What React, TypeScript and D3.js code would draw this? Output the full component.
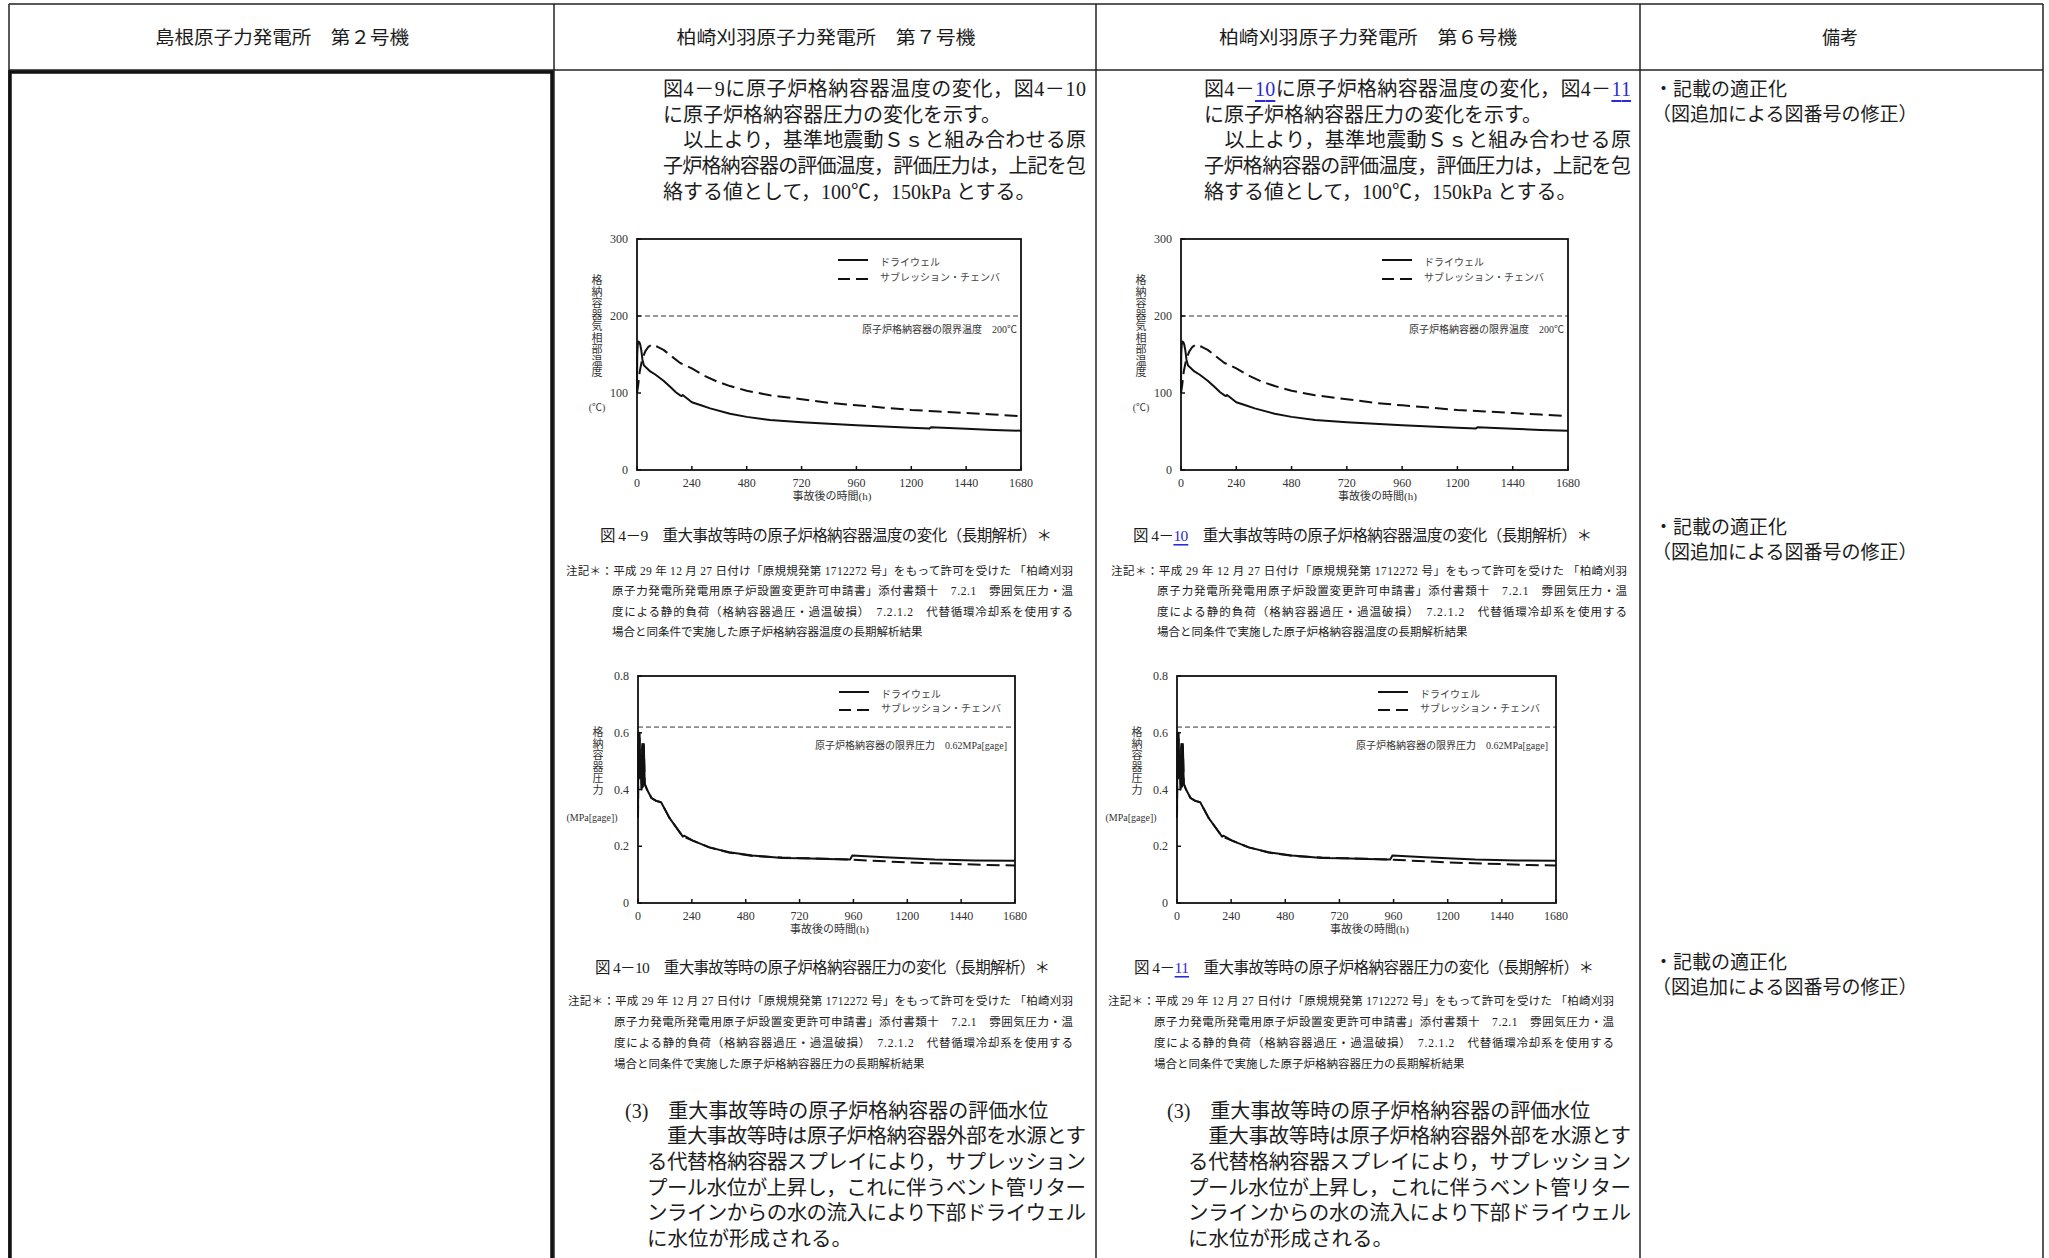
import React from "react";
import * as d3 from "d3";

// ---------------- DATA ----------------
const headerLabels = ["島根原子力発電所　第２号機", "柏崎刈羽原子力発電所　第７号機", "柏崎刈羽原子力発電所　第６号機", "備考"];

const xTicks = [0, 240, 480, 720, 960, 1200, 1440, 1680];
const xTickLabels = ["0", "240", "480", "720", "960", "1200", "1440", "1680"];
const tempTicks = [0, 100, 200, 300];
const tempTickLabels = ["0", "100", "200", "300"];
const pressTicks = [0, 0.2, 0.4, 0.6, 0.8];
const pressTickLabels = ["0", "0.2", "0.4", "0.6", "0.8"];
const tempLimit = 200;
const pressLimit = 0.62;

const legendLabels = ["ドライウェル", "サブレッション・チェンバ"];
const xAxisLabel = "事故後の時間(h)";
const tempAxisLabel = "格納容器気相部温度";
const tempUnit = "(℃)";
const pressAxisLabel = "格納容器圧力";
const pressUnit = "(MPa[gage])";
const tempLimitLabel = "原子炉格納容器の限界温度　200℃";
const pressLimitLabel = "原子炉格納容器の限界圧力　0.62MPa[gage]";

// Drywell temperature (h, ℃)
const dwTempHours = [0, 1, 3, 6, 10, 14, 19, 24, 30, 40, 58, 80, 116, 145, 170, 189, 195, 200, 240, 280, 320, 407, 480, 582, 720, 840, 960, 1080, 1200, 1280, 1287, 1440, 1560, 1680];
const dwTempValues = [100, 150, 162, 167, 166, 163, 155, 143, 136, 133, 128, 124, 116, 108, 101, 97, 96, 97.5, 88, 84, 80, 73, 69, 65, 62, 60, 58, 56.5, 55, 54, 55.5, 53.5, 52, 51];
// Suppression chamber temperature (h, ℃)
const scTempHours = [0, 5, 12, 22, 36, 50, 65, 90, 116, 150, 189, 240, 291, 349, 407, 480, 582, 720, 844, 960, 1080, 1200, 1320, 1440, 1560, 1680];
const scTempValues = [100, 110, 128, 143, 154, 160, 163, 160, 156, 148, 139, 132, 123, 115, 109, 103, 97, 92, 87, 84, 81, 78, 76, 74, 72, 70];

// Drywell pressure (h, MPa[gage])
const dwPressHours = [0, 2, 4, 7, 10, 13, 16, 19, 22, 26, 30, 40, 60, 81, 103, 120, 140, 170, 200, 207, 244, 318, 406, 510, 643, 731, 840, 945, 955, 1100, 1322, 1500, 1680];
const dwPressValues = [0.30, 0.60, 0.48, 0.60, 0.45, 0.52, 0.40, 0.56, 0.42, 0.56, 0.42, 0.40, 0.37, 0.36, 0.355, 0.33, 0.30, 0.267, 0.234, 0.237, 0.22, 0.196, 0.179, 0.167, 0.159, 0.158, 0.155, 0.153, 0.167, 0.161, 0.153, 0.150, 0.149];
// Suppression chamber pressure (h, MPa[gage])
const scPressHours = [0, 2, 4, 7, 10, 13, 16, 19, 22, 26, 30, 40, 60, 81, 103, 120, 140, 170, 200, 244, 318, 406, 510, 643, 731, 840, 945, 1100, 1200, 1320, 1440, 1560, 1680];
const scPressValues = [0.30, 0.58, 0.47, 0.58, 0.44, 0.50, 0.40, 0.55, 0.41, 0.55, 0.42, 0.40, 0.37, 0.36, 0.355, 0.33, 0.30, 0.267, 0.234, 0.22, 0.196, 0.178, 0.166, 0.160, 0.158, 0.156, 0.153, 0.147, 0.143, 0.140, 0.137, 0.134, 0.132];

// Text
const introK7 = [
  [{ t: "図4－9に原子炉格納容器温度の変化，図4－10" }],
  [{ t: "に原子炉格納容器圧力の変化を示す。" }],
  [{ t: "　以上より，基準地震動Ｓｓと組み合わせる原" }],
  [{ t: "子炉格納容器の評価温度，評価圧力は，上記を包" }],
  [{ t: "絡する値として，100℃，150kPa とする。" }],
];
const introK6 = [
  [{ t: "図4－" }, { t: "10", link: true }, { t: "に原子炉格納容器温度の変化，図4－" }, { t: "11", link: true }],
  [{ t: "に原子炉格納容器圧力の変化を示す。" }],
  [{ t: "　以上より，基準地震動Ｓｓと組み合わせる原" }],
  [{ t: "子炉格納容器の評価温度，評価圧力は，上記を包" }],
  [{ t: "絡する値として，100℃，150kPa とする。" }],
];
const introJustify = [true, false, true, true, false];

const captionTempK7 = [{ t: "図 4－9　重大事故等時の原子炉格納容器温度の変化（長期解析）＊" }];
const captionPressK7 = [{ t: "図 4－10　重大事故等時の原子炉格納容器圧力の変化（長期解析）＊" }];
const captionTempK6 = [{ t: "図 4－" }, { t: "10", link: true }, { t: "　重大事故等時の原子炉格納容器温度の変化（長期解析）＊" }];
const captionPressK6 = [{ t: "図 4－" }, { t: "11", link: true }, { t: "　重大事故等時の原子炉格納容器圧力の変化（長期解析）＊" }];

const noteHead = "注記＊：平成 29 年 12 月 27 日付け「原規規発第 1712272 号」をもって許可を受けた 「柏崎刈羽";
const noteLine2 = "原子力発電所発電用原子炉設置変更許可申請書」添付書類十　7.2.1　雰囲気圧力・温";
const noteLine3 = "度による静的負荷（格納容器過圧・過温破損）　7.2.1.2　代替循環冷却系を使用する";
const noteTempTail = "場合と同条件で実施した原子炉格納容器温度の長期解析結果";
const notePressTail = "場合と同条件で実施した原子炉格納容器圧力の長期解析結果";

const sectionTitle = "(3)　重大事故等時の原子炉格納容器の評価水位";
const sectionLines = [
  "　重大事故等時は原子炉格納容器外部を水源とす",
  "る代替格納容器スプレイにより，サプレッション",
  "プール水位が上昇し，これに伴うベント管リター",
  "ンラインからの水の流入により下部ドライウェル",
  "に水位が形成される。",
];
const sectionJustify = [true, true, true, true, false];

const remarkLines = ["・記載の適正化", "（図追加による図番号の修正）"];

// ---------------- STYLE ----------------
const JP = "'Liberation Serif', 'Noto Sans CJK JP', serif";
const SERIF = "'Liberation Serif', 'DejaVu Serif', serif";
const INK = "#1c1c1c";
const LINK = "#2b2bd6";

type Seg = { t: string; link?: boolean };

function TLine({ x, y, segs, size, width, anchor }: { x: number; y: number; segs: Seg[]; size: number; width?: number; anchor?: string }) {
  return (
    <text
      x={x}
      y={y}
      fontSize={size}
      fontFamily={JP}
      fill={INK}
      dominantBaseline="central"
      textAnchor={anchor || "start"}
      textLength={width}
      lengthAdjust={width ? "spacing" : undefined}
    >
      {segs.map((s, i) => (
        <tspan key={i} fill={s.link ? LINK : INK} textDecoration={s.link ? "underline" : undefined}>
          {s.t}
        </tspan>
      ))}
    </text>
  );
}

type ChartProps = {
  x0: number; x1: number; y0: number; y1: number;
  yMax: number; yTicks: number[]; yTickLabels: string[];
  series: { hours: number[]; values: number[]; dashed: boolean }[];
  limit: number; limitLabel: string; limitLabelDx: number; limitLabelDy: number;
  axisLabel: string; unit: string; axisLabelDy: number; unitDy: number; unitDx: number;
  legendDy: number[];
};

function Chart(p: ChartProps) {
  const xs = d3.scaleLinear().domain([0, 1680]).range([p.x0, p.x1]);
  const ys = d3.scaleLinear().domain([0, p.yMax]).range([p.y1, p.y0]);
  const line = d3.line<[number, number]>().x((d) => xs(d[0])).y((d) => ys(d[1]));
  const mid = (p.x0 + p.x1) / 2;
  const lx = p.x0 - 40;
  return (
    <g>
      {p.series.map((s, i) => (
        <path
          key={i}
          d={line(s.hours.map((h, j) => [h, s.values[j]] as [number, number])) || ""}
          fill="none"
          stroke="#111"
          strokeWidth={2}
          strokeDasharray={s.dashed ? "13,6" : undefined}
          strokeLinejoin="round"
        />
      ))}
      <line x1={p.x0} x2={p.x1} y1={ys(p.limit)} y2={ys(p.limit)} stroke="#333" strokeWidth={1} strokeDasharray="5,3" />
      <rect x={p.x0} y={p.y0} width={p.x1 - p.x0} height={p.y1 - p.y0} fill="none" stroke="#111" strokeWidth={1.8} />
      {xTicks.map((t, i) => (
        <g key={"x" + i}>
          <line x1={xs(t)} x2={xs(t)} y1={p.y1} y2={p.y1 - 4} stroke="#111" strokeWidth={1.5} />
          <text x={xs(t)} y={p.y1 + 13} fontSize={12} fontFamily={SERIF} fill="#333" textAnchor="middle" dominantBaseline="central">
            {xTickLabels[i]}
          </text>
        </g>
      ))}
      {p.yTicks.map((t, i) => (
        <g key={"y" + i}>
          <line x1={p.x0} x2={p.x0 + 4} y1={ys(t)} y2={ys(t)} stroke="#111" strokeWidth={1.5} />
          <text x={p.x0 - 9} y={ys(t)} fontSize={12} fontFamily={SERIF} fill="#333" textAnchor="end" dominantBaseline="central">
            {p.yTickLabels[i]}
          </text>
        </g>
      ))}
      <text x={mid + 3} y={p.y1 + 26} fontSize={11} fontFamily={JP} fill="#333" textAnchor="middle" dominantBaseline="central">
        {xAxisLabel}
      </text>
      {Array.from(p.axisLabel).map((c, i) => (
        <text key={"a" + i} x={lx} y={p.y0 + p.axisLabelDy + i * 11.5} fontSize={11} fontFamily={JP} fill="#333" textAnchor="middle" dominantBaseline="central">
          {c}
        </text>
      ))}
      <text x={lx + p.unitDx} y={p.y0 + p.unitDy} fontSize={10} fontFamily={JP} fill="#333" textAnchor="middle" dominantBaseline="central">
        {p.unit}
      </text>
      <line x1={p.x0 + 201} x2={p.x0 + 231} y1={p.y0 + p.legendDy[0]} y2={p.y0 + p.legendDy[0]} stroke="#111" strokeWidth={2} />
      <line x1={p.x0 + 201} x2={p.x0 + 231} y1={p.y0 + p.legendDy[1]} y2={p.y0 + p.legendDy[1]} stroke="#111" strokeWidth={2} strokeDasharray="12,6" />
      {legendLabels.map((l, i) => (
        <text key={"l" + i} x={p.x0 + 243} y={p.y0 + p.legendDy[i] + (i === 0 ? 2 : -2)} fontSize={10} fontFamily={JP} fill="#444" dominantBaseline="central">
          {l}
        </text>
      ))}
      <text x={p.x1 - p.limitLabelDx} y={ys(p.limit) + p.limitLabelDy} fontSize={10} fontFamily={JP} fill="#333" textAnchor="end" dominantBaseline="central">
        {p.limitLabel}
      </text>
    </g>
  );
}

function TempChart({ x0, x1 }: { x0: number; x1: number }) {
  return (
    <Chart
      x0={x0} x1={x1} y0={239} y1={470} yMax={300}
      yTicks={tempTicks} yTickLabels={tempTickLabels}
      series={[
        { hours: dwTempHours, values: dwTempValues, dashed: false },
        { hours: scTempHours, values: scTempValues, dashed: true },
      ]}
      limit={tempLimit} limitLabel={tempLimitLabel} limitLabelDx={4} limitLabelDy={13}
      axisLabel={tempAxisLabel} unit={tempUnit} axisLabelDy={41} unitDy={168} unitDx={0}
      legendDy={[21, 40]}
    />
  );
}

function PressChart({ x0, x1 }: { x0: number; x1: number }) {
  return (
    <Chart
      x0={x0} x1={x1} y0={676} y1={903} yMax={0.8}
      yTicks={pressTicks} yTickLabels={pressTickLabels}
      series={[
        { hours: dwPressHours, values: dwPressValues, dashed: false },
        { hours: scPressHours, values: scPressValues, dashed: true },
      ]}
      limit={pressLimit} limitLabel={pressLimitLabel} limitLabelDx={8} limitLabelDy={18}
      axisLabel={pressAxisLabel} unit={pressUnit} axisLabelDy={56} unitDy={141} unitDx={-6}
      legendDy={[16, 34]}
    />
  );
}

function Notes({ x, indent, right, ys, tail }: { x: number; indent: number; right: number; ys: number[]; tail: string }) {
  const lines = [noteHead, noteLine2, noteLine3, tail];
  return (
    <g>
      {lines.map((l, i) => (
        <TLine key={i} x={i === 0 ? x : indent} y={ys[i]} segs={[{ t: l }]} size={11.5} width={i < 3 ? right - (i === 0 ? x : indent) : undefined} />
      ))}
    </g>
  );
}

function Column({ left, right, intro, capT, capP, capTx, capPx, capTw, capPw, noteX, noteIndent, noteRight, secX, secLeft, tempX, pressX }: any) {
  const introY = [89, 115, 140, 166, 192];
  const secY = [1136, 1162, 1188, 1213, 1239];
  return (
    <g>
      {intro.map((segs: Seg[], i: number) => (
        <TLine key={i} x={left} y={introY[i]} segs={segs} size={20} width={introJustify[i] ? right - left : undefined} />
      ))}
      <TempChart x0={tempX[0]} x1={tempX[1]} />
      <TLine x={capTx} y={535} segs={capT} size={15.5} width={capTw} />
      <Notes x={noteX[0]} indent={noteIndent[0]} right={noteRight[0]} ys={[571, 591, 612, 632]} tail={noteTempTail} />
      <PressChart x0={pressX[0]} x1={pressX[1]} />
      <TLine x={capPx} y={967} segs={capP} size={15.5} width={capPw} />
      <Notes x={noteX[1]} indent={noteIndent[1]} right={noteRight[1]} ys={[1001, 1022, 1043, 1064]} tail={notePressTail} />
      <TLine x={secX} y={1111} segs={[{ t: sectionTitle }]} size={20} />
      {sectionLines.map((l, i) => (
        <TLine key={"s" + i} x={secLeft} y={secY[i]} segs={[{ t: l }]} size={20.5} width={sectionJustify[i] ? right - secLeft : undefined} />
      ))}
    </g>
  );
}

export default function App() {
  const colX = [9, 554, 1096, 1640, 2043];
  const headerCx = [282, 826, 1368, 1840];
  const headerW = [254, 299, 298, 0];
  const remarkY = [89, 527, 962];
  return (
    <svg width={2049} height={1258} style={{ position: "absolute", left: 0, top: 0, background: "#fff" }}>
      <rect x={0} y={0} width={2049} height={1258} fill="#fff" />
      {/* table */}
      <line x1={colX[0]} x2={colX[4]} y1={4} y2={4} stroke="#222" strokeWidth={1.5} />
      <line x1={colX[0]} x2={colX[4]} y1={70} y2={70} stroke="#222" strokeWidth={1.5} />
      {colX.map((x, i) => (
        <line key={i} x1={x} x2={x} y1={4} y2={1258} stroke="#222" strokeWidth={1.5} />
      ))}
      <path d={`M10,1262 L10,72 L552,72 L552,1262`} fill="none" stroke="#111" strokeWidth={3.5} />
      {headerLabels.map((h, i) => (
        <text
          key={i}
          x={headerCx[i]}
          y={38}
          fontSize={18}
          fontFamily={JP}
          fill={INK}
          textAnchor="middle"
          dominantBaseline="central"
          textLength={headerW[i] || undefined}
          lengthAdjust={headerW[i] ? "spacingAndGlyphs" : undefined}
        >
          {h}
        </text>
      ))}
      <Column
        left={663} right={1086} intro={introK7}
        capT={captionTempK7} capP={captionPressK7} capTx={600} capPx={595} capTw={452} capPw={455}
        noteX={[566, 568]} noteIndent={[612, 614]} noteRight={[1073, 1073]}
        secX={625} secLeft={647} tempX={[637, 1021]} pressX={[638, 1015]}
      />
      <Column
        left={1204} right={1631} intro={introK6}
        capT={captionTempK6} capP={captionPressK6} capTx={1133} capPx={1134} capTw={459} capPw={460}
        noteX={[1111, 1108]} noteIndent={[1157, 1154]} noteRight={[1627, 1614]}
        secX={1167} secLeft={1188} tempX={[1181, 1568]} pressX={[1177, 1556]}
      />
      {remarkY.map((y, i) => (
        <g key={i}>
          <TLine x={1654} y={y} segs={[{ t: remarkLines[0] }]} size={19} />
          <TLine x={1652} y={y + 25} segs={[{ t: remarkLines[1] }]} size={19} />
        </g>
      ))}
    </svg>
  );
}
